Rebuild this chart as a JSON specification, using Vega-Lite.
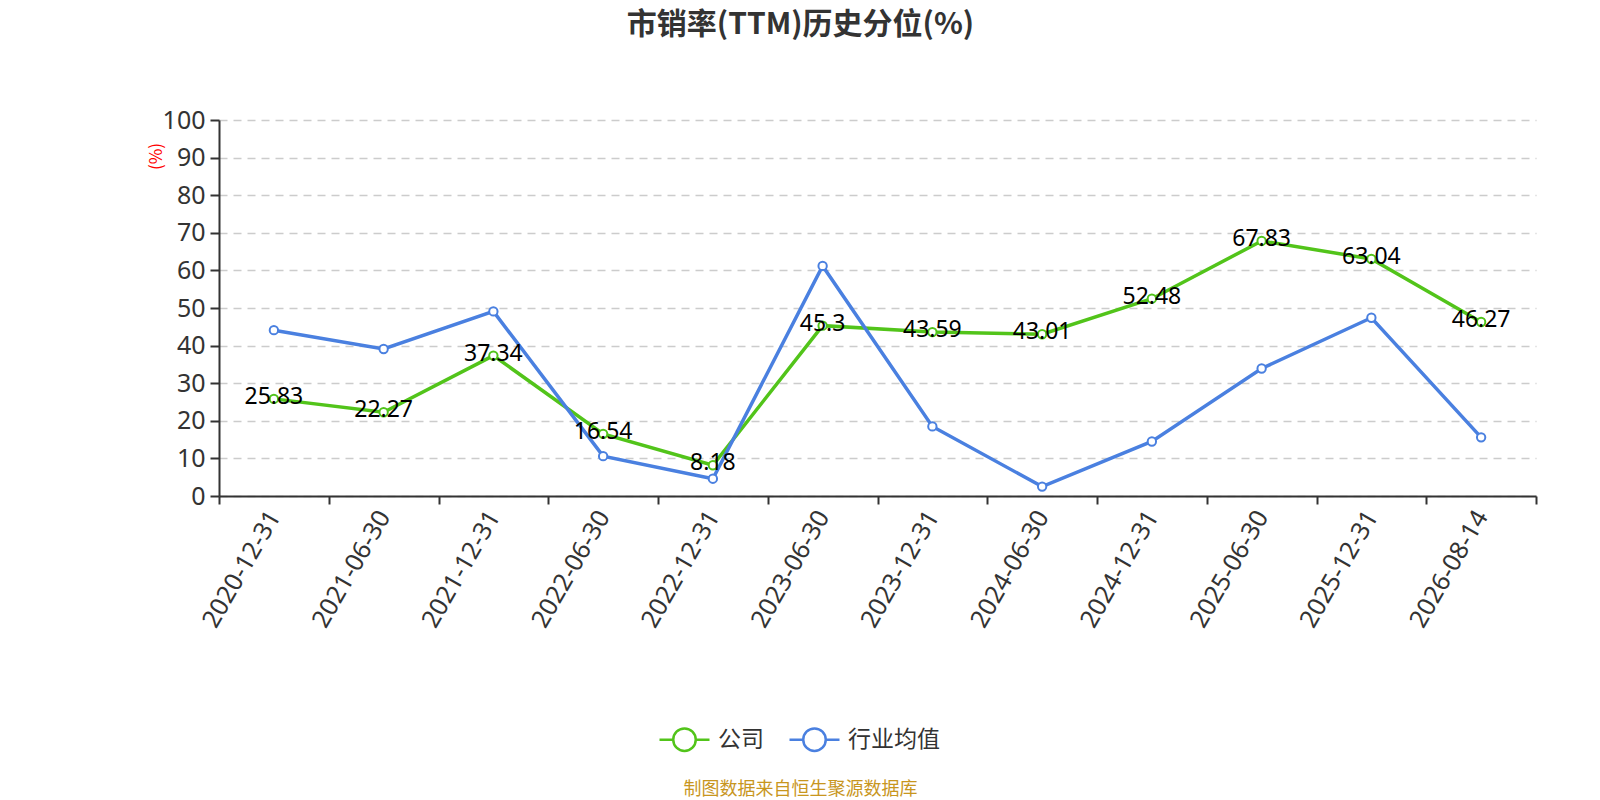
{
  "$schema": "https://vega.github.io/schema/vega-lite/v6.json",
  "autosize": {"type": "none"},
  "width": 1317,
  "height": 376,
  "padding": {"left": 219, "top": 120, "right": 64, "bottom": 304},
  "background": "white",
  "config": {
    "font": "Noto Sans, Noto Sans CJK SC",
    "view": {"stroke": null}
  },
  "title": {
    "text": "市销率(TTM)历史分位(%)",
    "fontSize": 30,
    "fontWeight": "bold",
    "color": "#333333",
    "font": "Noto Sans CJK SC",
    "anchor": "middle",
    "frame": "group",
    "dx": -77,
    "offset": 68
  },
  "data": {
    "values": [
      {"date": "2020-12-31", "series": "公司", "value": 25.83},
      {"date": "2021-06-30", "series": "公司", "value": 22.27},
      {"date": "2021-12-31", "series": "公司", "value": 37.34},
      {"date": "2022-06-30", "series": "公司", "value": 16.54},
      {"date": "2022-12-31", "series": "公司", "value": 8.18},
      {"date": "2023-06-30", "series": "公司", "value": 45.3},
      {"date": "2023-12-31", "series": "公司", "value": 43.59},
      {"date": "2024-06-30", "series": "公司", "value": 43.01},
      {"date": "2024-12-31", "series": "公司", "value": 52.48},
      {"date": "2025-06-30", "series": "公司", "value": 67.83},
      {"date": "2025-12-31", "series": "公司", "value": 63.04},
      {"date": "2026-08-14", "series": "公司", "value": 46.27},
      {"date": "2020-12-31", "series": "行业均值", "value": 44.1},
      {"date": "2021-06-30", "series": "行业均值", "value": 39.1},
      {"date": "2021-12-31", "series": "行业均值", "value": 49.1},
      {"date": "2022-06-30", "series": "行业均值", "value": 10.6},
      {"date": "2022-12-31", "series": "行业均值", "value": 4.6},
      {"date": "2023-06-30", "series": "行业均值", "value": 61.2},
      {"date": "2023-12-31", "series": "行业均值", "value": 18.5},
      {"date": "2024-06-30", "series": "行业均值", "value": 2.5},
      {"date": "2024-12-31", "series": "行业均值", "value": 14.5},
      {"date": "2025-06-30", "series": "行业均值", "value": 33.9},
      {"date": "2025-12-31", "series": "行业均值", "value": 47.4},
      {"date": "2026-08-14", "series": "行业均值", "value": 15.6}
    ]
  },
  "encoding": {
    "x": {
      "field": "date",
      "type": "ordinal",
      "scale": {"type": "band", "paddingInner": 0, "paddingOuter": 0},
      "axis": {
        "tickBand": "extent",
        "labelAngle": -60,
        "labelAlign": "right",
        "labelBaseline": "middle",
        "labelFontSize": 25,
        "labelColor": "#333333",
        "labelPadding": 8,
        "domainColor": "#333333",
        "domainWidth": 2,
        "tickColor": "#333333",
        "tickWidth": 2,
        "tickSize": 8,
        "grid": false,
        "title": "制图数据来自恒生聚源数据库",
        "titleFont": "Noto Sans CJK SC",
        "titleFontSize": 18,
        "titleFontWeight": "normal",
        "titleColor": "#c8961e",
        "titleX": 581,
        "titleY": 293,
        "titleAlign": "center",
        "titleBaseline": "middle"
      }
    },
    "y": {
      "field": "value",
      "type": "quantitative",
      "scale": {"domain": [0, 100], "nice": false},
      "axis": {
        "values": [0, 10, 20, 30, 40, 50, 60, 70, 80, 90, 100],
        "labelFontSize": 25,
        "labelColor": "#333333",
        "labelPadding": 5,
        "domainColor": "#333333",
        "domainWidth": 2,
        "tickColor": "#333333",
        "tickWidth": 2,
        "tickSize": 9,
        "grid": true,
        "gridColor": "#cccccc",
        "gridWidth": 1.5,
        "gridDash": [8, 6],
        "title": "(%)",
        "titleFont": "Noto Sans CJK SC",
        "titleFontSize": 17,
        "titleFontWeight": "normal",
        "titleColor": "#ff0000",
        "titleX": -63,
        "titleY": 36,
        "titleAlign": "center",
        "titleBaseline": "middle"
      }
    },
    "color": {
      "field": "series",
      "type": "nominal",
      "scale": {"domain": ["公司", "行业均值"], "range": ["#52c41a", "#4a80e0"]},
      "legend": {
        "title": null,
        "orient": "none",
        "direction": "horizontal",
        "legendX": 439,
        "legendY": 593,
        "symbolType": "M-1,0L-0.45,0M0.45,0L1,0M0.45,0A0.45,0.45,0,1,1,-0.45,0A0.45,0.45,0,1,1,0.45,0",
        "symbolSize": 2500,
        "symbolStrokeWidth": 2.5,
        "symbolFillColor": "white",
        "labelFontSize": 23,
        "labelColor": "#333333",
        "labelFont": "Noto Sans CJK SC",
        "labelOffset": 7,
        "columnPadding": 20
      }
    }
  },
  "layer": [
    {
      "mark": {"type": "line", "strokeWidth": 3.5}
    },
    {
      "mark": {"type": "point", "filled": false, "fill": "white", "fillOpacity": 1, "opacity": 1, "size": 70, "strokeWidth": 2}
    },
    {
      "transform": [{"filter": "datum.series === '公司'"}],
      "mark": {"type": "text", "fontSize": 23, "color": "#000000", "baseline": "middle", "dy": -2},
      "encoding": {
        "text": {"field": "value", "type": "quantitative"},
        "color": {"value": "#000000"}
      }
    }
  ]
}
